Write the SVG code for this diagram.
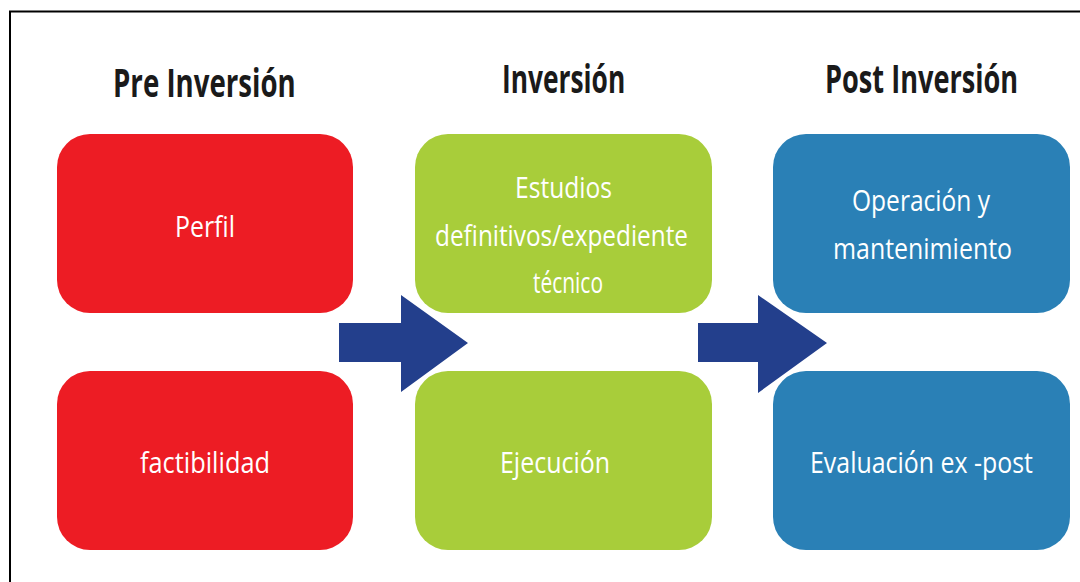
<svg xmlns="http://www.w3.org/2000/svg" width="1080" height="582" viewBox="0 0 1080 582">
<style>
.title{font-family:"Open Sans","Liberation Sans",sans-serif;font-weight:bold;font-size:39px;fill:#1a1a1a}
.lbl{font-family:"Open Sans","Liberation Sans",sans-serif;font-size:30px;fill:#ffffff}
.red{fill:#ED1C24}
.green{fill:#A8CD3A}
.blue{fill:#2A80B6}
.arrow{fill:#233F8C}
</style>
<rect x="0" y="0" width="1080" height="582" fill="#ffffff"/>
<rect x="10" y="11.5" width="1090" height="600" fill="none" stroke="#000" stroke-width="2"/>
<g id="titles">
<text class="title" transform="translate(113,97) scale(0.7,1)" x="0" y="0" textLength="261" lengthAdjust="spacingAndGlyphs">Pre Inversión</text>
<text class="title" transform="translate(502,93) scale(0.7,1)" x="0" y="0" textLength="176" lengthAdjust="spacingAndGlyphs">Inversión</text>
<text class="title" transform="translate(825,93) scale(0.7,1)" x="0" y="0" textLength="276" lengthAdjust="spacingAndGlyphs">Post Inversión</text>
</g>
<g id="perfil">
<rect class="red" x="57" y="134" width="296" height="179" rx="33"/>
<text class="lbl" x="175" y="237" textLength="60" lengthAdjust="spacingAndGlyphs">Perfil</text>
</g>
<g id="factibilidad">
<rect class="red" x="57" y="371" width="296" height="179" rx="33"/>
<text class="lbl" x="140" y="473" textLength="130" lengthAdjust="spacingAndGlyphs">factibilidad</text>
</g>
<g id="estudios">
<rect class="green" x="415" y="134" width="297" height="179" rx="33"/>
<text class="lbl" x="515" y="198" textLength="97" lengthAdjust="spacingAndGlyphs">Estudios</text>
<text class="lbl" x="435" y="246" textLength="253" lengthAdjust="spacingAndGlyphs">definitivos/expediente</text>
<text class="lbl" x="533" y="293" textLength="70" lengthAdjust="spacingAndGlyphs">técnico</text>
</g>
<g id="ejecucion">
<rect class="green" x="415" y="371" width="297" height="179" rx="33"/>
<text class="lbl" x="500" y="473" textLength="110" lengthAdjust="spacingAndGlyphs">Ejecución</text>
</g>
<g id="operacion">
<rect class="blue" x="773" y="134" width="297" height="179" rx="33"/>
<text class="lbl" x="852" y="211" textLength="138" lengthAdjust="spacingAndGlyphs">Operación y</text>
<text class="lbl" x="833" y="259" textLength="179" lengthAdjust="spacingAndGlyphs">mantenimiento</text>
</g>
<g id="evaluacion">
<rect class="blue" x="773" y="371" width="297" height="179" rx="33"/>
<text class="lbl" x="810" y="473" textLength="223" lengthAdjust="spacingAndGlyphs">Evaluación ex -post</text>
</g>
<g id="connectors">
<polygon class="arrow" points="339,323 401,323 401,295 468,343 401,392 401,362 339,362"/>
<polygon class="arrow" points="698,323 758,323 758,295 827,343 758,393 758,362 698,362"/>
</g>
</svg>
